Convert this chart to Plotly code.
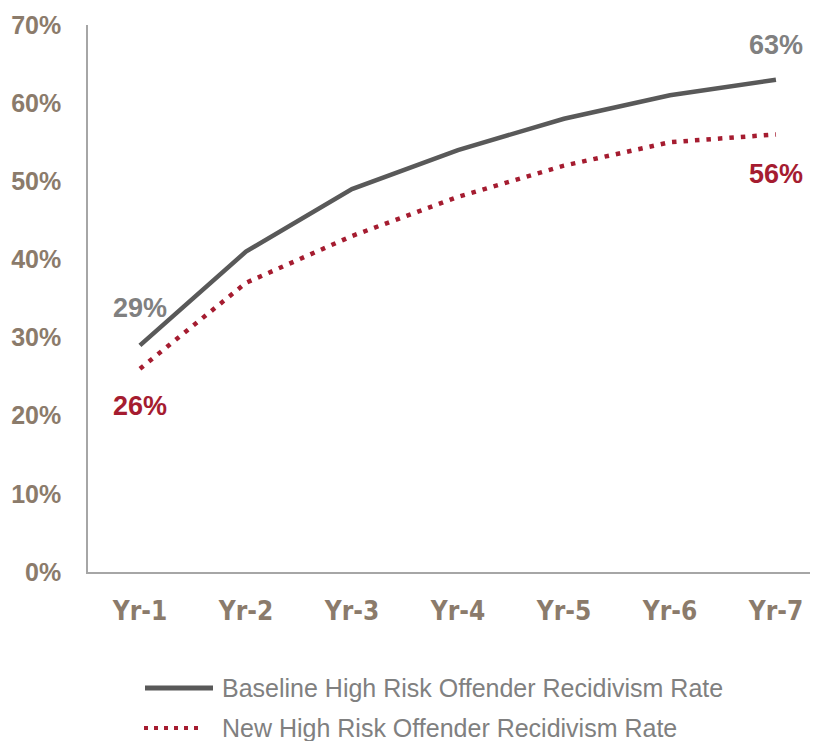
import plotly.graph_objects as go

categories = ["Yr-1", "Yr-2", "Yr-3", "Yr-4", "Yr-5", "Yr-6", "Yr-7"]
baseline = [0.29, 0.41, 0.49, 0.54, 0.58, 0.61, 0.63]
new_rate = [0.26, 0.37, 0.43, 0.48, 0.52, 0.55, 0.56]
series_names = ["Baseline High Risk Offender Recidivism Rate",
                "New High Risk Offender Recidivism Rate"]
y_ticks = [0, 0.1, 0.2, 0.3, 0.4, 0.5, 0.6, 0.7]
y_tick_labels = ["0%", "10%", "20%", "30%", "40%", "50%", "60%", "70%"]

GRAY = "#595959"
RED = "#A51C30"
TAUPE = "#8B7B6B"
LABEL_GRAY = "#808080"

OFF = 8  # page body margin
W, H = 818 - OFF, 741 - OFF
# target plot area in window pixels: x 88..818, y 25..572
L, R, T, B = 88 - OFF, 0, 25 - OFF, 741 - 572
pw, ph = W - L - R, H - T - B

def px_x(x):
    return (x - OFF - L) / pw

def px_y(y):
    return (H - B - (y - OFF)) / ph

xs = list(range(len(categories)))

fig = go.Figure()
fig.add_trace(go.Scatter(x=xs, y=baseline, mode="lines", name=series_names[0],
                         line=dict(color=GRAY, width=4.5), showlegend=False))
fig.add_trace(go.Scatter(x=xs, y=new_rate, mode="lines", name=series_names[1],
                         line=dict(color=RED, width=4.5, dash="4.5px,7px"), showlegend=False))

ann = [
    dict(x=xs[-1], y=baseline[-1], text=f"{round(baseline[-1]*100)}%", color=LABEL_GRAY, shift=35),
    dict(x=xs[-1], y=new_rate[-1], text=f"{round(new_rate[-1]*100)}%", color=RED, shift=-40),
    dict(x=xs[0], y=baseline[0], text=f"{round(baseline[0]*100)}%", color=LABEL_GRAY, shift=37),
    dict(x=xs[0], y=new_rate[0], text=f"{round(new_rate[0]*100)}%", color=RED, shift=-37),
]
for a in ann:
    fig.add_annotation(x=a["x"], y=a["y"], text=a["text"], showarrow=False,
                       xref="x", yref="y", xanchor="center", yanchor="middle",
                       yshift=a["shift"],
                       font=dict(family="Liberation Sans", size=27, color=a["color"], weight="bold"))

# custom legend
leg_rows = [688, 728]
fig.add_shape(type="line", xref="paper", yref="paper",
              x0=px_x(145), x1=px_x(213), y0=px_y(leg_rows[0]), y1=px_y(leg_rows[0]),
              line=dict(color=GRAY, width=5))
fig.add_shape(type="line", xref="paper", yref="paper",
              x0=px_x(144), x1=px_x(200), y0=px_y(leg_rows[1]), y1=px_y(leg_rows[1]),
              line=dict(color=RED, width=4, dash="4px,6px"))
for name, row in zip(series_names, leg_rows):
    fig.add_annotation(x=px_x(220), y=px_y(row), xref="paper", yref="paper",
                       text=name, showarrow=False, xanchor="left", yanchor="middle",
                       font=dict(family="Liberation Sans", size=25, color=LABEL_GRAY))

fig.update_layout(
    width=W, height=H,
    margin=dict(l=L, r=R, t=T, b=B),
    plot_bgcolor="white", paper_bgcolor="white",
    showlegend=False,
)
fig.update_xaxes(
    tickmode="array", tickvals=xs, ticktext=categories,
    range=[-0.49, -0.49 + pw / 106.0],
    showgrid=False, zeroline=False,
    showline=True, linecolor="#A6A6A6", linewidth=1.5,
    ticks="", ticklabelstandoff=15,
    tickfont=dict(family="DejaVu Sans Condensed, Liberation Sans", size=26, color=TAUPE,
                  weight="bold"),
)
fig.update_yaxes(
    tickmode="array", tickvals=y_ticks, ticktext=y_tick_labels,
    range=[0, 0.7],
    showgrid=False, zeroline=False,
    showline=True, linecolor="#A6A6A6", linewidth=1.5,
    ticks="", ticklabelstandoff=20,
    tickfont=dict(family="Liberation Sans", size=25, color=TAUPE, weight="bold"),
)

fig.write_html("out.html")
